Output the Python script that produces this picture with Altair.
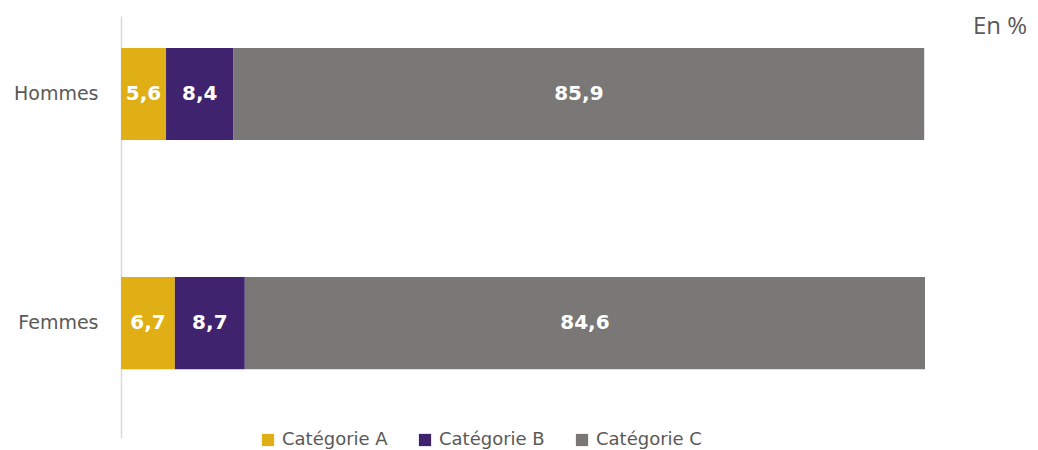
import altair as alt
import pandas as pd

# Répartition par sexe, en %
groups = ["Hommes", "Femmes"]
categories = ["Catégorie A", "Catégorie B", "Catégorie C"]
cat_a = [5.6, 6.7]
cat_b = [8.4, 8.7]
cat_c = [85.9, 84.6]
colors = ["#E0AE15", "#40236E", "#7A7876"]

rows = []
for i, g in enumerate(groups):
    for k, (cat, vals) in enumerate(zip(categories, [cat_a, cat_b, cat_c])):
        v = vals[i]
        rows.append({
            "group": g,
            "cat": cat,
            "order": k,
            "value": v,
            "label": f"{v:.1f}".replace(".", ","),
        })
df = pd.DataFrame(rows)

base = alt.Chart(df).transform_stack(
    stack="value",
    groupby=["group"],
    as_=["x0", "x1"],
    sort=[alt.SortField("order", order="ascending")],
).transform_calculate(mid="(datum.x0 + datum.x1) / 2")

y_enc = alt.Y(
    "group:N",
    sort=groups,
    scale=alt.Scale(paddingInner=0.598, paddingOuter=0.22, align=0.317),
    axis=alt.Axis(
        title=None,
        domain=True,
        domainColor="#D9D9D9",
        domainWidth=1.5,
        ticks=False,
        grid=False,
        labelPadding=23,
        labelFontSize=19,
        labelColor="#595959",
        labelFont="DejaVu Sans",
    ),
)

bars = base.mark_bar().encode(
    y=y_enc,
    x=alt.X("x0:Q", scale=alt.Scale(domain=[0, 100]), axis=None),
    x2="x1:Q",
    color=alt.Color(
        "cat:N",
        scale=alt.Scale(domain=categories, range=colors),
        legend=alt.Legend(
            title=None,
            orient="none",
            direction="horizontal",
            legendX=138,
            legendY=415,
            symbolType="square",
            symbolSize=150,
            symbolStrokeWidth=0,
            labelFontSize=18,
            labelColor="#595959",
            labelFont="DejaVu Sans",
            labelOffset=5,
            labelLimit=200,
            columnPadding=28,
        ),
    ),
)

labels = base.mark_text(
    color="white", fontWeight="bold", fontSize=20, font="DejaVu Sans"
).encode(
    y=alt.Y("group:N", sort=groups),
    x=alt.X("mid:Q"),
    text="label:N",
)

unit = alt.Chart(pd.DataFrame({"t": ["En %"]})).mark_text(
    align="left", baseline="middle", fontSize=24, color="#595959", font="Open Sans"
).encode(x=alt.value(852), y=alt.value(11), text="t:N")

chart = alt.layer(bars, labels, unit).properties(
    width=804,
    height=422,
    padding={"left": 121, "top": 16, "right": 113, "bottom": 12},
    autosize=alt.AutoSizeParams(type="none"),
).configure_view(stroke=None)

chart.save("out.html", embed_options={"renderer": "svg", "actions": False})
